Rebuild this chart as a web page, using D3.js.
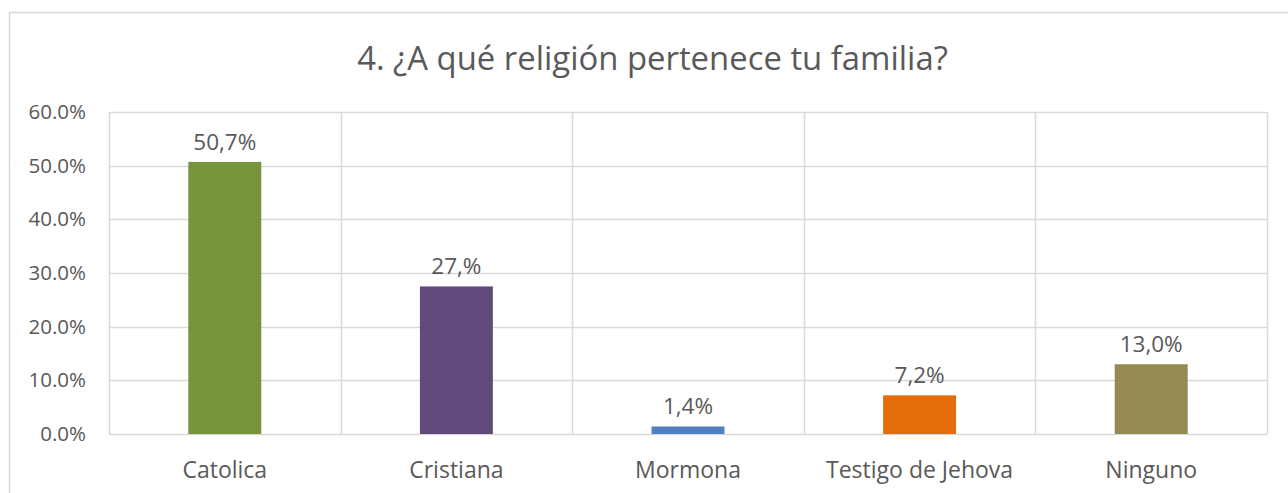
<!DOCTYPE html>
<html><head><meta charset="utf-8">
<script src="https://cdn.jsdelivr.net/npm/d3@7"></script>
<style>
html,body{margin:0;padding:0;background:#fff;}
svg text{font-family:"Open Sans","Noto Sans",sans-serif;fill:#595959;}
</style></head>
<body>
<svg id="chart" width="1288" height="493"></svg>
<script>
const title = "4. ¿A qué religión pertenece tu familia?";
const categories = ["Catolica", "Cristiana", "Mormona", "Testigo de Jehova", "Ninguno"];
const values = [50.7, 27.5, 1.4, 7.2, 13.0];
const valueLabels = ["50,7%", "27,%", "1,4%", "7,2%", "13,0%"];
const colors = ["#77933c", "#604a7b", "#4f81bd", "#e46c0a", "#948a54"];
const yTicks = [0, 10, 20, 30, 40, 50, 60];
const yTickLabels = ["0.0%", "10.0%", "20.0%", "30.0%", "40.0%", "50.0%", "60.0%"];

const svg = d3.select("#chart");
const W = 1288, H = 493;
const plot = {left: 109, right: 1267, top: 112, bottom: 434};

// outer chart border (extends beyond right/bottom)
svg.append("rect").attr("x", 9.5).attr("y", 12.5).attr("width", 1300).attr("height", 500)
  .attr("fill", "#fff").attr("stroke", "#d9d9d9").attr("stroke-width", 1.5);

const x = d3.scaleBand().domain(categories).range([plot.left, plot.right]).padding(0);
const y = d3.scaleLinear().domain([0, 60]).range([plot.bottom, plot.top]);

// horizontal gridlines
svg.append("g").selectAll("line").data(yTicks).join("line")
  .attr("x1", plot.left).attr("x2", plot.right)
  .attr("y1", d => Math.round(y(d)) + 0.5).attr("y2", d => Math.round(y(d)) + 0.5)
  .attr("stroke", "#d9d9d9").attr("stroke-width", 1.5);

// vertical gridlines at category boundaries
const bounds = categories.map(c => x(c)).concat([plot.right]);
svg.append("g").selectAll("line").data(bounds).join("line")
  .attr("x1", d => Math.round(d) + 0.5).attr("x2", d => Math.round(d) + 0.5)
  .attr("y1", plot.top).attr("y2", plot.bottom)
  .attr("stroke", "#d9d9d9").attr("stroke-width", 1.5);

// y tick labels
svg.append("g").selectAll("text").data(yTicks).join("text")
  .attr("x", 86).attr("y", d => y(d) + 7)
  .attr("text-anchor", "end").style("font-size", "20.5px")
  .text((d, i) => yTickLabels[i]);

// bars
const bw = x.bandwidth() * 0.315;
svg.append("g").selectAll("rect").data(values).join("rect")
  .attr("x", (d, i) => x(categories[i]) + x.bandwidth() / 2 - bw / 2)
  .attr("y", d => y(d))
  .attr("width", bw)
  .attr("height", d => y(0) - y(d))
  .attr("fill", (d, i) => colors[i]);

// data labels
svg.append("g").selectAll("text").data(values).join("text")
  .attr("x", (d, i) => x(categories[i]) + x.bandwidth() / 2)
  .attr("y", d => y(d) - 12)
  .attr("text-anchor", "middle").style("font-size", "22.5px")
  .text((d, i) => valueLabels[i]);

// category labels
svg.append("g").selectAll("text").data(categories).join("text")
  .attr("x", d => x(d) + x.bandwidth() / 2)
  .attr("y", 478)
  .attr("text-anchor", "middle").style("font-size", "23px")
  .text(d => d);

// title
const t = svg.append("text").attr("x", 652.5).attr("y", 70)
  .attr("text-anchor", "middle").style("font-size", "30px").text(title);
const tw = t.node().getComputedTextLength();
t.style("font-size", (30 * 591 / tw) + "px");
</script>
</body></html>
